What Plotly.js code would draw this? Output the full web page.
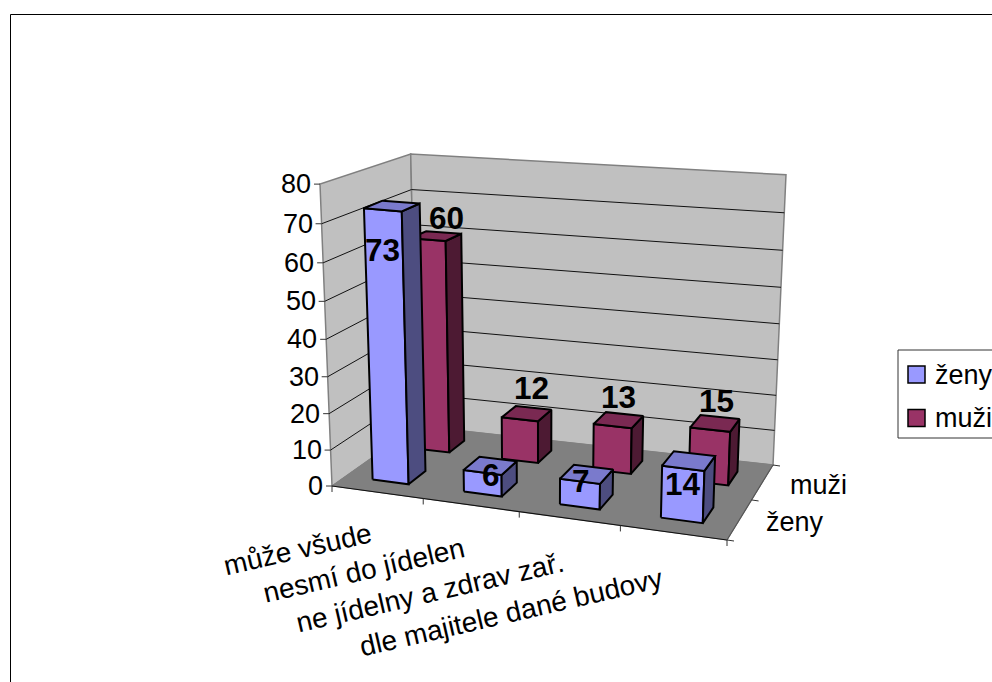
<!DOCTYPE html>
<html><head><meta charset="utf-8">
<script src="https://cdn.plot.ly/plotly-3.0.1.min.js"></script>
<style>html,body{margin:0;padding:0;background:#fff;overflow:hidden}</style>
</head><body><div id="chart" style="width:992px;height:682px"></div>
<script>
// ---- data ----
const categories = ["může všude", "nesmí do jídelen", "ne jídelny a zdrav zař.", "dle majitele dané budovy"];
const seriesNames = ["ženy", "muži"];
const zeny = [73, 6, 7, 14];
const muzi = [60, 12, 13, 15];
const valueTicks = [0, 10, 20, 30, 40, 50, 60, 70, 80];

// ---- projection of the 3-D plot box onto the page ----
const FONT = '"Liberation Sans", Arial, sans-serif';
const AXIS_SIZE = 27, CAT_SIZE = 28, VALUE_SIZE = 31.5;
const zMax = 80;
const floorQ = {fl:[332,486], fr:[727,540], br:[773,465], bl:[417,426]};
const vp = [539, 5693];                 // vertical vanishing point
const kz = {fl:.0548, fr:.0583, br:.0526, bl:.0491};
function floorPt(u0, v){                // unit square -> floor quad
  const u = u0 + .04*u0*(1-u0);
  const [x0,y0]=floorQ.fl,[x1,y1]=floorQ.fr,[x2,y2]=floorQ.br,[x3,y3]=floorQ.bl;
  const dx1=x1-x2,dx2=x3-x2,sx=x0-x1+x2-x3,dy1=y1-y2,dy2=y3-y2,sy=y0-y1+y2-y3;
  const det=dx1*dy2-dx2*dy1;
  const g=(sx*dy2-dx2*sy)/det,h=(dx1*sy-sx*dy1)/det;
  const a=x1-x0+g*x1,b=x3-x0+h*x3,d=y1-y0+g*y1,e=y3-y0+h*y3;
  const w=g*u+h*v+1;
  return [(a*u+b*v+x0)/w,(d*u+e*v+y0)/w];
}
function P(u, v, z){
  const F=floorPt(u,v);
  const k=(1-u)*(1-v)*kz.fl+u*(1-v)*kz.fr+u*v*kz.br+(1-u)*v*kz.bl;
  const q=k*z/zMax, s=q/(1-q);
  return [F[0]+(F[0]-vp[0])*s, F[1]+(F[1]-vp[1])*s];
}

// ---- trace helpers ----
const traces = [];
function poly(pts, fill, line, lw, name){
  const c = pts.concat([pts[0]]);
  traces.push({type:'scatter', mode:'lines', x:c.map(p=>p[0]), y:c.map(p=>p[1]),
    fill:'toself', fillcolor:fill, line:{color:line, width:lw}, hoverinfo:'skip',
    showlegend:false, name:name||''});
}
function seg(a, b, color, lw){
  traces.push({type:'scatter', mode:'lines', x:[a[0],b[0]], y:[a[1],b[1]],
    line:{color:color, width:lw}, hoverinfo:'skip', showlegend:false});
}

// walls and floor
const WALL='#C0C0C0', EDGE='#808080';
poly([P(0,0,0),P(0,1,0),P(0,1,zMax),P(0,0,zMax)], WALL, EDGE, 1.5);
poly([P(0,1,0),P(1,1,0),P(1,1,zMax),P(0,1,zMax)], WALL, EDGE, 1.5);
valueTicks.slice(1,-1).forEach(t=>{
  seg(P(0,0,t),P(0,1,t),'#111',1);
  seg(P(0,1,t),P(1,1,t),'#111',1);
});
poly([P(0,0,0),P(1,0,0),P(1,1,0),P(0,1,0)], EDGE, EDGE, 1);

// axis lines + tick marks
seg(P(0,0,0),P(1,0,0),'#111',1.2);
seg(P(1,0,0),P(1,1,0),'#555',1.2);
valueTicks.forEach(t=>{ const p=P(0,0,t); seg([p[0]-6,p[1]],p,'#333',1); });
categories.concat(['']).forEach((c,i)=>{
  const p=P(i/categories.length,0,0); seg(p,[p[0],p[1]+6],'#333',1);
});
[0,1,2].forEach(i=>{
  const p=P(1,i/2,0); seg(p,[p[0]+7,p[1]+1],'#333',1);
});

// bars
const palette = [
  {front:'#9999FF', side:'#4D4D80', top:'#7A7ACC'},
  {front:'#993366', side:'#4D1A33', top:'#7A2952'}
];
function bar(cat, ser, val){
  const n=categories.length, m=seriesNames.length;
  const u0=(cat+.3)/n, u1=(cat+.7)/n, v0=(ser+.3)/m, v1=(ser+.7)/m;
  const col=palette[ser], nm=seriesNames[ser];
  poly([P(u0,v0,0),P(u1,v0,0),P(u1,v0,val),P(u0,v0,val)], col.front,'#000',2,nm);
  poly([P(u1,v0,0),P(u1,v1,0),P(u1,v1,val),P(u1,v0,val)], col.side,'#000',2,nm);
  poly([P(u0,v0,val),P(u1,v0,val),P(u1,v1,val),P(u0,v1,val)], col.top,'#000',2,nm);
}
muzi.forEach((val,i)=>bar(i,1,val));
zeny.forEach((val,i)=>bar(i,0,val));

// ---- text ----
const ann = [];
function label(x,y,text,size,opts){
  ann.push(Object.assign({x,y,text,xref:'x',yref:'y',showarrow:false,
    xanchor:'center',yanchor:'middle',font:{family:FONT,size,color:'#000'}},opts||{}));
}
valueTicks.forEach(t=>{ const p=P(0,0,t);
  label(p[0]-7,p[1],String(t),AXIS_SIZE,{xanchor:'right'}); });

// category labels, placed along the front edge of the floor
const catPlace = [[297,549],[363,570],[430,592],[511,612]];
categories.forEach((c,i)=>label(catPlace[i][0],catPlace[i][1],c,CAT_SIZE,{textangle:-13}));

// depth-axis labels
label(818,485,seriesNames[1],AXIS_SIZE);
label(795,522,seriesNames[0],AXIS_SIZE);

// value labels (hand-placed in the reference)
const zenyLabelPos = [[382,250],[491,475],[581,481],[683,484]];
const muziLabelPos = [[446,218],[531,388],[618,397],[716,401]];
const bold = {font:{family:FONT,size:VALUE_SIZE,color:'#000',weight:700}};
zeny.forEach((v,i)=>label(zenyLabelPos[i][0],zenyLabelPos[i][1],String(v),VALUE_SIZE,bold));
muzi.forEach((v,i)=>label(muziLabelPos[i][0],muziLabelPos[i][1],String(v),VALUE_SIZE,bold));

// legend
const legendRows = [{y:374.5,s:0},{y:418,s:1}];
legendRows.forEach(r=>{
  label(933,r.y,seriesNames[r.s],AXIS_SIZE,{xanchor:'left'});
});
const shapes = [
  {type:'rect',xref:'x',yref:'y',x0:10.5,y0:14.5,x1:1010,y1:700,line:{color:'#000',width:1},layer:'below'},
  {type:'rect',xref:'x',yref:'y',x0:898,y0:350,x1:1010,y1:438,line:{color:'#333',width:1},fillcolor:'#fff',layer:'below'},
].concat(legendRows.map(r=>({type:'rect',xref:'x',yref:'y',x0:908,x1:925,y0:r.y-8.5,y1:r.y+8.5,
  line:{color:'#000',width:1.5},fillcolor:palette[r.s].front})));

Plotly.newPlot('chart', traces, {
  width:992,height:682,margin:{l:0,r:0,t:0,b:0},
  paper_bgcolor:'#fff',plot_bgcolor:'#fff',showlegend:false,
  xaxis:{range:[0,992],visible:false,fixedrange:true},
  yaxis:{range:[682,0],visible:false,fixedrange:true},
  annotations:ann,shapes:shapes
},{displayModeBar:false,staticPlot:true});
</script></body></html>
